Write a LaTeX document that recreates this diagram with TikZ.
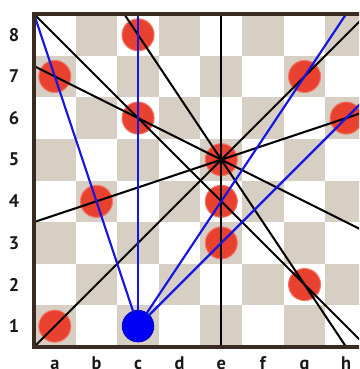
\documentclass[tikz,border=0pt]{standalone}
\usepackage{fontspec}
\setmainfont{PT Sans}
\definecolor{sqdark}{RGB}{216,207,196}
\definecolor{frame}{RGB}{58,43,34}
\definecolor{pcred}{RGB}{232,65,47}
\definecolor{pcedge}{RGB}{240,120,100}
\definecolor{lnblue}{RGB}{22,22,225}
\definecolor{diskblue}{RGB}{0,0,245}
\begin{document}
\begin{tikzpicture}[x=1cm,y=1cm,
  piece/.style={circle,fill=pcred,draw=pcedge,line width=0.7pt,minimum size=0.77cm,inner sep=0pt},
  mypiece/.style={circle,fill=diskblue,draw=diskblue!75!black,line width=0.5pt,minimum size=0.76cm,inner sep=0pt},
  blk/.style={black,line width=1.4pt},
  blu/.style={lnblue,line width=1.5pt},
  rank/.style={font=\bfseries\fontsize{12.5}{14}\selectfont,text=black!90,inner sep=0pt},
  file/.style={font=\bfseries\fontsize{12.5}{14}\selectfont,text=black!90,inner sep=0pt,anchor=base}]
\useasboundingbox (-0.817,-0.529) rectangle (7.813,8.337);
\clip (-0.817,-0.529) rectangle (7.813,8.337);
% squares
\foreach \i in {0,...,7}{
  \foreach \j in {0,...,7}{
    \pgfmathtruncatemacro{\sqpar}{mod(\i+\j,2)}
    \ifnum\sqpar=0
      \fill[sqdark] (\i,\j) rectangle ++(1,1);
    \fi
  }
}
% labels
\foreach \r in {1,...,8}{
  \node[rank] (r\r) at (-0.48,\r-0.5) {\r};
}
\foreach \f [count=\k from 0] in {a,b,c,d,e,f,g,h}{
  \node[file] (f\f) at (\k+0.5,-0.54) {\f};
}
% pieces
\node[piece] (c8) at (2.5,7.5) {};
\node[piece] (a7) at (0.5,6.5) {};
\node[piece] (g7) at (6.5,6.5) {};
\node[piece] (c6) at (2.5,5.5) {};
\node[piece] (h6) at (7.5,5.5) {};
\node[piece] (e5) at (4.5,4.5) {};
\node[piece] (b4) at (1.5,3.5) {};
\node[piece] (e4) at (4.5,3.5) {};
\node[piece] (e3) at (4.5,2.5) {};
\node[piece] (g2) at (6.5,1.5) {};
\node[piece] (a1) at (0.5,0.5) {};
% edge points
\coordinate (eTop) at (4.5,8);
\coordinate (eBot) at (4.5,0);
\coordinate (cgTop) at (2.1667,8);
\coordinate (cgBot) at (7.5,0);
\coordinate (acL) at (0,6.75);
\coordinate (acR) at (8,2.75);
\coordinate (BL) at (0,0);
\coordinate (TR) at (8,8);
\coordinate (TL) at (0,8);
\coordinate (BR) at (8,0);
\coordinate (bhL) at (0,3);
\coordinate (bhR) at (8,5.6667);
\coordinate (cTop) at (2.5,8);
\coordinate (gTop) at (7.5,8);
\coordinate (hR) at (8,6);
% black lines
\draw[blk] (eBot) -- (e3.center) -- (e4.center) -- (e5.center) -- (eTop);
\draw[blk] (cgTop) -- (c8.center) -- (e5.center) -- (g2.center) -- (cgBot);
\draw[blk] (acL) -- (a7.center) -- (c6.center) -- (e5.center) -- (acR);
\draw[blk] (BL) -- (a1.center) -- (e5.center) -- (g7.center) -- (TR);
\draw[blk] (TL) -- (c6.center) -- (e4.center) -- (g2.center) -- (BR);
\draw[blk] (bhL) -- (b4.center) -- (e5.center) -- (h6.center) -- (bhR);
% blue piece and lines
\node[mypiece] (c1) at (2.5,0.5) {};
\draw[blu] (TL) -- (a7.center) -- (b4.center) -- (c1.center);
\draw[blu] (c1.center) -- (c6.center) -- (c8.center) -- (cTop);
\draw[blu] (c1.center) -- (e4.center) -- (g7.center) -- (gTop);
\draw[blu] (c1.center) -- (e3.center) -- (h6.center) -- (hR);
\fill[diskblue] (c1) circle (0.36);
% frame
\draw[frame,line width=2.6pt] (0,0) rectangle (8,8);
\end{tikzpicture}
\end{document}
